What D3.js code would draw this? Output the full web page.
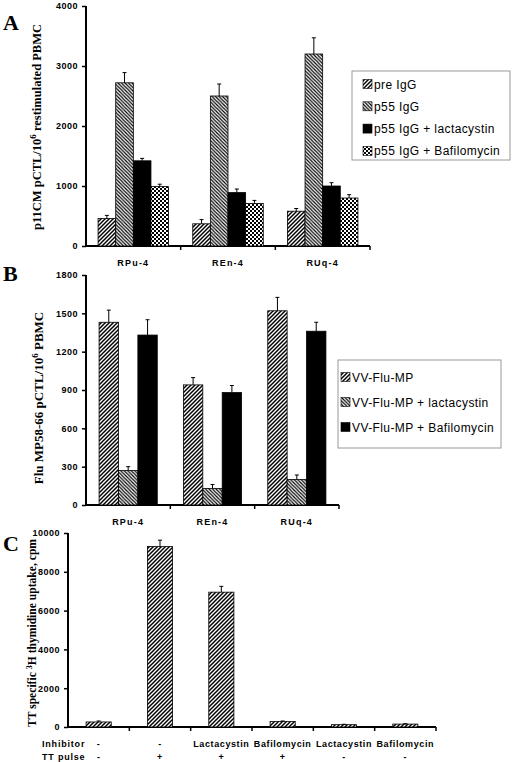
<!DOCTYPE html>
<html><head><meta charset="utf-8">
<script src="https://cdn.jsdelivr.net/npm/d3@7"></script>
<style>
html,body{margin:0;padding:0;background:#fff;}
svg{display:block;}
.tick-lbl{font-family:"Liberation Sans",Arial,sans-serif;font-weight:bold;font-size:9px;letter-spacing:0.5px;}
.title{font-family:"Liberation Serif","Times New Roman",serif;font-weight:bold;font-size:13px;}
.panel{font-family:"Liberation Serif","Times New Roman",serif;font-weight:bold;font-size:22px;}
.leg{font-family:"Liberation Sans",Arial,sans-serif;font-size:12px;letter-spacing:0.4px;}
</style>
</head><body>
<svg id="chart" width="513" height="762"></svg>
<script>
// ---------- DATA ----------
const catsA = ["RPu-4", "REn-4", "RUq-4"];
const seriesA = ["pre IgG", "p55 IgG", "p55 IgG + lactacystin", "p55 IgG + Bafilomycin"];
const valsA_pre  = [460, 370, 580];
const errA_pre   = [50, 70, 45];
const valsA_p55  = [2720, 2500, 3200];
const errA_p55   = [170, 200, 270];
const valsA_lact = [1420, 890, 1000];
const errA_lact  = [40, 60, 55];
const valsA_baf  = [990, 710, 800];
const errA_baf   = [40, 50, 55];
const ticksA = [0, 1000, 2000, 3000, 4000];

const catsB = ["RPu-4", "REn-4", "RUq-4"];
const seriesB = ["VV-Flu-MP", "VV-Flu-MP + lactacystin", "VV-Flu-MP + Bafilomycin"];
const valsB_vv   = [1430, 940, 1520];
const errB_vv    = [95, 57, 105];
const valsB_lact = [270, 130, 200];
const errB_lact  = [30, 30, 35];
const valsB_baf  = [1330, 880, 1360];
const errB_baf   = [120, 55, 70];
const ticksB = [0, 300, 600, 900, 1200, 1500, 1800];

const inhibitorC = ["-", "-", "Lactacystin", "Bafilomycin", "Lactacystin", "Bafilomycin"];
const pulseC     = ["-", "+", "+", "+", "-", "-"];
const valsC = [260, 9300, 6950, 280, 120, 150];
const errC  = [50, 330, 300, 30, 20, 20];
const ticksC = [0, 2000, 4000, 6000, 8000, 10000];

// ---------- SETUP ----------
const svg = d3.select("#chart");
const defs = svg.append("defs");
function hatch(id, dir, spacing, sw) {
  const p = defs.append("pattern").attr("id", id).attr("patternUnits", "userSpaceOnUse")
    .attr("width", spacing).attr("height", spacing);
  p.append("rect").attr("width", spacing).attr("height", spacing).attr("fill", "#fff");
  if (dir === "fwd") {
    p.append("path").attr("d", `M0,${spacing} L${spacing},0 M${-spacing/2},${spacing/2} L${spacing/2},${-spacing/2} M${spacing/2},${spacing*1.5} L${spacing*1.5},${spacing/2}`)
      .attr("stroke", "#000").attr("stroke-width", sw);
  } else {
    p.append("path").attr("d", `M0,0 L${spacing},${spacing} M${-spacing/2},${spacing/2} L${spacing/2},${spacing*1.5} M${spacing/2},${-spacing/2} L${spacing*1.5},${spacing/2}`)
      .attr("stroke", "#000").attr("stroke-width", sw);
  }
}
hatch("fwd", "fwd", 4, 1.5);
hatch("bwd", "bwd", 3.5, 1.2);
const chk = defs.append("pattern").attr("id", "chk").attr("patternUnits", "userSpaceOnUse").attr("width", 4).attr("height", 4);
chk.append("rect").attr("width", 4).attr("height", 4).attr("fill", "#fff");
chk.append("rect").attr("width", 2).attr("height", 2).attr("fill", "#000");
chk.append("rect").attr("x", 2).attr("y", 2).attr("width", 2).attr("height", 2).attr("fill", "#000");

function drawAxes(g, x, y, ticks, bandEdges, tickFmt) {
  const [x0, x1] = x.range();
  const [y0, y1] = y.range();
  const ya = g.append("g").attr("transform", `translate(${x0},0)`)
    .call(d3.axisLeft(y).tickValues(ticks).tickSize(4).tickPadding(4).tickFormat(tickFmt || d3.format("d")));
  ya.select(".domain").remove();
  ya.selectAll(".tick line").attr("stroke", "#000").attr("stroke-width", 1.5);
  ya.selectAll(".tick text").attr("class", "tick-lbl").attr("fill", "#000");
  g.append("line").attr("x1", x0).attr("x2", x0).attr("y1", y0 + 1).attr("y2", y1)
    .attr("stroke", "#000").attr("stroke-width", 2);
  g.append("line").attr("x1", x0 - 1).attr("x2", x1).attr("y1", y0).attr("y2", y0)
    .attr("stroke", "#000").attr("stroke-width", 2);
  g.selectAll(".xt").data(bandEdges).enter().append("line")
    .attr("x1", d => d).attr("x2", d => d).attr("y1", y0).attr("y2", y0 + 4)
    .attr("stroke", "#000").attr("stroke-width", 1.5);
}

function drawErr(g, cx, yTop, yErr) {
  g.append("line").attr("x1", cx).attr("x2", cx).attr("y1", yTop).attr("y2", yErr).attr("stroke", "#000").attr("stroke-width", 1);
  g.append("line").attr("x1", cx - 2).attr("x2", cx + 2).attr("y1", yErr).attr("y2", yErr).attr("stroke", "#000").attr("stroke-width", 1);
}

function groupedPanel(opts) {
  const g = svg.append("g");
  const x0 = d3.scaleBand().domain(opts.cats).range(opts.xr).paddingInner(0).paddingOuter(0);
  const gw = x0.bandwidth() * opts.groupFrac;
  const x1 = d3.scaleBand().domain(opts.series).range([0, gw]);
  const y = d3.scaleLinear().domain([0, opts.ticks[opts.ticks.length - 1]]).range(opts.yr);
  const edges = opts.cats.map(c => x0(c) + x0.bandwidth());
  drawAxes(g, x0, y, opts.ticks, edges);
  opts.series.forEach((s, si) => {
    opts.cats.forEach((c, ci) => {
      const v = opts.vals[si][ci], e = opts.errs[si][ci];
      const bx = x0(c) + (x0.bandwidth() - gw) / 2 + x1(s);
      g.append("rect").attr("x", bx).attr("y", y(v)).attr("width", x1.bandwidth()).attr("height", y(0) - y(v))
        .attr("fill", opts.fills[si]).attr("stroke", "#000").attr("stroke-width", 0.8);
      drawErr(g, bx + x1.bandwidth() / 2, y(v), y(v + e));
    });
  });
  g.selectAll(".cl").data(opts.cats).enter().append("text")
    .attr("class", "tick-lbl").attr("x", d => x0(d) + x0.bandwidth() / 2).attr("y", opts.catY)
    .attr("text-anchor", "middle").style("letter-spacing", "1.2px").text(d => d);
  const L = opts.legend;
  g.append("rect").attr("x", L.x).attr("y", L.y).attr("width", L.w).attr("height", L.h)
    .attr("fill", "#fff").attr("stroke", "#999").attr("stroke-width", 1);
  opts.series.forEach((s, si) => {
    const cy = L.y + L.first + si * L.step;
    g.append("rect").attr("x", L.sx).attr("y", cy - 4.5).attr("width", 9).attr("height", 9)
      .attr("fill", opts.fills[si]).attr("stroke", "#000").attr("stroke-width", 0.6);
    g.append("text").attr("class", "leg").attr("x", L.sx + 11).attr("y", cy + 4.5).text(s);
  });
  g.append("text").attr("class", "title").attr("text-anchor", "middle")
    .attr("transform", `translate(${opts.titleX},${opts.titleY}) rotate(-90)`)
    .each(function() { opts.title(d3.select(this)); });
  g.append("text").attr("class", "panel").attr("x", opts.letter[0]).attr("y", opts.letter[1]).text(opts.letter[2]);
}

// ---------- PANEL A ----------
groupedPanel({
  cats: catsA, series: seriesA,
  vals: [valsA_pre, valsA_p55, valsA_lact, valsA_baf],
  errs: [errA_pre, errA_p55, errA_lact, errA_baf],
  fills: ["url(#fwd)", "url(#bwd)", "#000", "url(#chk)"],
  xr: [86, 370], yr: [246, 6], ticks: ticksA, groupFrac: 0.745, catY: 266,
  legend: { x: 352, y: 71, w: 158, h: 89, first: 13, step: 22.3, sx: 363 },
  titleX: 41, titleY: 127,
  title: t => { t.style("font-size", "12.5px"); t.append("tspan").text("p11CM pCTL/10"); t.append("tspan").attr("dy", -5).style("font-size", "9px").text("6");
                t.append("tspan").attr("dy", 5).text(" restimulated PBMC"); },
  letter: [3, 30, "A"]
});

// ---------- PANEL B ----------
groupedPanel({
  cats: catsB, series: seriesB,
  vals: [valsB_vv, valsB_lact, valsB_baf],
  errs: [errB_vv, errB_lact, errB_baf],
  fills: ["url(#fwd)", "url(#bwd)", "#000"],
  xr: [86, 339], yr: [505, 275], ticks: ticksB, groupFrac: 0.69, catY: 525,
  legend: { x: 338, y: 360, w: 163, h: 88, first: 17, step: 25, sx: 341 },
  titleX: 43, titleY: 398,
  title: t => { t.append("tspan").text("Flu MP58-66 pCTL/10"); t.append("tspan").attr("dy", -5).style("font-size", "9px").text("6");
                t.append("tspan").attr("dy", 5).text(" PBMC"); },
  letter: [3, 281, "B"]
});

// ---------- PANEL C ----------
(function() {
  const g = svg.append("g");
  const idx = d3.range(valsC.length);
  const x = d3.scaleBand().domain(idx).range([68, 436]).paddingInner(0).paddingOuter(0);
  const y = d3.scaleLinear().domain([0, 10000]).range([727, 533]);
  const edges = idx.map(i => x(i) + x.bandwidth());
  drawAxes(g, x, y, ticksC, edges);
  const bw = x.bandwidth() * 0.41;
  idx.forEach(i => {
    const bx = x(i) + (x.bandwidth() - bw) / 2;
    g.append("rect").attr("x", bx).attr("y", y(valsC[i])).attr("width", bw).attr("height", y(0) - y(valsC[i]))
      .attr("fill", "url(#fwd)").attr("stroke", "#000").attr("stroke-width", 0.8);
    drawErr(g, bx + bw / 2, y(valsC[i]), y(valsC[i] + errC[i]));
  });
  g.append("text").attr("class", "tick-lbl").attr("x", 42).attr("y", 747).style("letter-spacing", "0.8px").text("Inhibitor");
  g.append("text").attr("class", "tick-lbl").attr("x", 42).attr("y", 760).style("letter-spacing", "0.8px").text("TT pulse");
  g.selectAll(".inh").data(idx).enter().append("text").attr("class", "tick-lbl")
    .attr("x", i => x(i) + x.bandwidth() / 2).attr("y", 747).attr("text-anchor", "middle").style("letter-spacing", "0.6px")
    .text(i => inhibitorC[i]);
  g.selectAll(".pul").data(idx).enter().append("text").attr("class", "tick-lbl")
    .attr("x", i => x(i) + x.bandwidth() / 2).attr("y", 760).attr("text-anchor", "middle")
    .text(i => pulseC[i]);
  const t = g.append("text").attr("class", "title").attr("text-anchor", "middle").style("font-size", "11.6px")
    .attr("transform", "translate(36,633) rotate(-90)");
  t.append("tspan").text("TT specific ");
  t.append("tspan").attr("dy", -4).style("font-size", "8px").text("3");
  t.append("tspan").attr("dy", 4).text("H thymidine uptake, cpm");
  g.append("text").attr("class", "panel").attr("x", 3).attr("y", 551).text("C");
})();
</script>
</body></html>
